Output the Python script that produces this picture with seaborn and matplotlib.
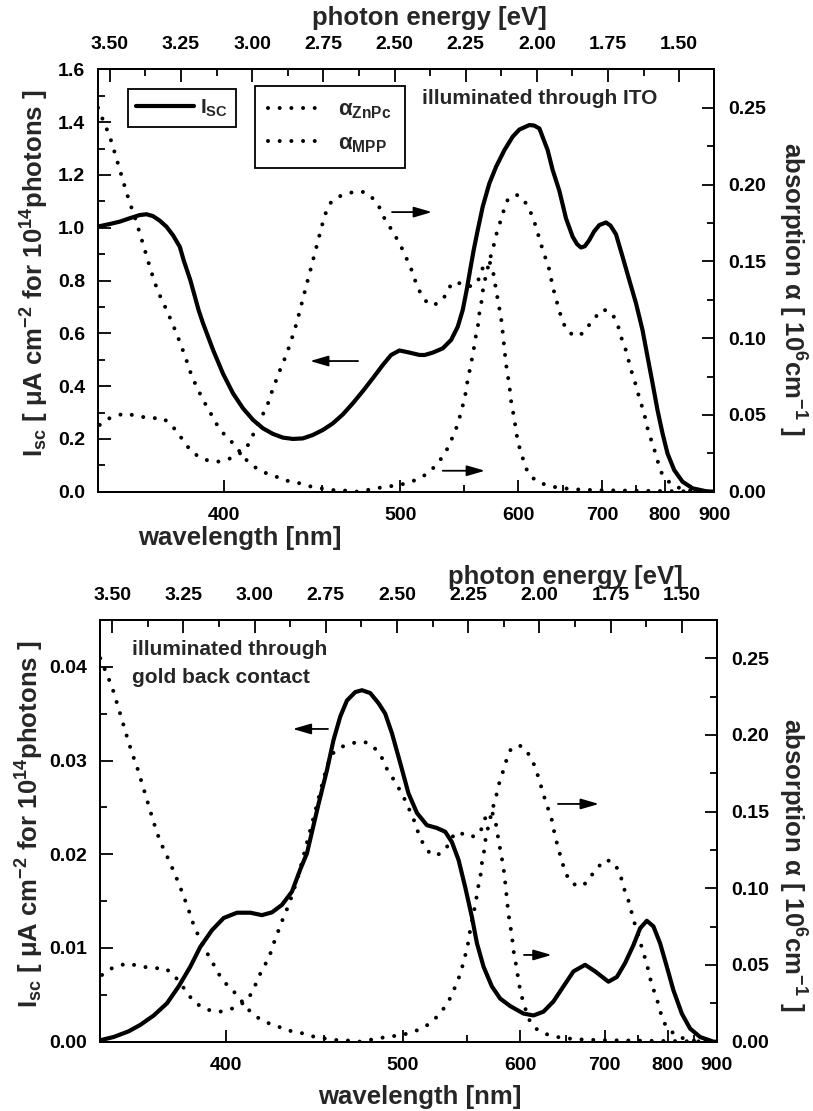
"""ZnPc/MPP cell - photocurrent and absorption spectra"""

import numpy as np
import matplotlib
matplotlib.use('Agg')
import matplotlib.pyplot as plt
from matplotlib.ticker import MultipleLocator, FormatStrFormatter
import seaborn as sns

HC = 1239.84  # eV nm

# absorption coefficient ZnPc [1e6 cm^-1]
znpc_wl = [350.1, 352.5, 354.2, 356.0, 357.8, 359.6, 361.5, 363.3, 365.2, 367.1,
           369.0, 371.0, 372.9, 375.6, 377.6, 379.6, 381.7, 383.7, 385.8, 388.0,
           390.8, 393.7, 397.4, 400.4, 404.2, 410.5, 415.3, 420.3, 425.3, 428.7,
           434.0, 439.4, 444.0, 449.7, 456.4, 464.4, 471.6, 477.0, 483.5, 490.2,
           497.1, 502.0, 507.8, 514.0, 521.0, 528.0, 532.8, 537.4, 540.1, 543.0,
           545.7, 548.5, 550.8, 552.3, 553.7, 555.2, 556.6, 558.0, 559.3, 560.7,
           562.2, 563.1, 564.6, 565.6, 566.7, 568.5, 570.7, 572.2, 574.7, 576.9,
           579.1, 581.6, 584.3, 586.5, 589.7, 598.1, 605.6, 615.4, 620.8, 626.3,
           630.1, 633.8, 637.6, 643.4, 646.2, 649.3, 654.6, 664.8, 675.0, 682.8,
           691.8, 700.8, 712.7, 720.8, 724.8, 728.9, 733.8, 737.4, 741.1, 745.1,
           749.4, 753.1, 757.0, 761.2, 765.7, 769.5, 774.0, 778.0, 783.8, 787.9,
           792.6, 802.7, 820.2, 839.7, 870.0, 900.0]
znpc = [0.250, 0.239, 0.2315, 0.2207, 0.2098, 0.1989, 0.188, 0.1793, 0.1685, 0.1576,
        0.1467, 0.136, 0.128, 0.1185, 0.111, 0.1033, 0.0946, 0.0859, 0.0761, 0.0685,
        0.0598, 0.0522, 0.0424, 0.037, 0.0316, 0.0207, 0.0153, 0.012, 0.0098, 0.0076,
        0.0065, 0.005, 0.0033, 0.0022, 0.0011, 0.0007, 0.0, 0.001, 0.0022, 0.0033,
        0.004, 0.005, 0.0065, 0.0087, 0.0124, 0.0185, 0.0239, 0.0304, 0.0359, 0.0413,
        0.0479, 0.0560, 0.0635, 0.0707, 0.0761, 0.0815, 0.087, 0.0924, 0.0989, 0.1043,
        0.1098, 0.1163, 0.1217, 0.127, 0.1337, 0.139, 0.1457, 0.150, 0.1565, 0.162,
        0.1685, 0.1739, 0.1793, 0.1848, 0.190, 0.1935, 0.1907, 0.1793, 0.1685, 0.1576,
        0.151, 0.1446, 0.1337, 0.1217, 0.1163, 0.1109, 0.1048, 0.1011, 0.1033, 0.1087,
        0.1141, 0.1187, 0.117, 0.1109, 0.1054, 0.0989, 0.0935, 0.088, 0.082, 0.0761,
        0.0707, 0.0652, 0.0598, 0.0544, 0.0479, 0.0413, 0.0359, 0.0304, 0.0246, 0.0185,
        0.013, 0.0076, 0.0033, 0.001, 0.0003, 0.0]

# absorption coefficient MPP [1e6 cm^-1]
mpp_wl = [350.7, 354.2, 359.6, 365.2, 370.3, 374.2, 377.6, 380.3, 385.8, 390.1,
          393.7, 397.4, 401.9, 406.5, 410.5, 413.7, 416.9, 420.3, 422.8, 425.3,
          427.9, 430.5, 433.1, 435.8, 437.6, 440.3, 443.1, 445.9, 448.7, 451.6,
          455.0, 459.6, 464.7, 470.6, 476.5, 482.4, 485.7, 489.0, 496.0, 502.0,
          508.0, 512.7, 516.4, 521.0, 528.0, 533.4, 537.4, 543.0, 550.0, 558.0,
          563.1, 566.1, 572.2, 575.3, 577.0, 578.5, 581.0, 583.3, 585.0, 586.5,
          588.1, 591.4, 593.1, 596.4, 598.7, 601.5, 604.9, 606.6, 610.8, 619.1,
          630.1, 641.5, 661.5, 691.8, 760.0, 830.0, 900.0]
mpp = [0.0435, 0.0479, 0.0511, 0.0489, 0.0479, 0.0479, 0.0435, 0.038, 0.0261, 0.0218,
       0.020, 0.0196, 0.0211, 0.0239, 0.0283, 0.037, 0.0468, 0.0544, 0.0642, 0.0728,
       0.0815, 0.0890, 0.0985, 0.1090, 0.1173, 0.1298, 0.1423, 0.1548, 0.1673, 0.1798,
       0.1880, 0.1920, 0.1940, 0.1956, 0.1950, 0.1900, 0.185, 0.178, 0.1674, 0.157,
       0.1446, 0.1326, 0.127, 0.1217, 0.1224, 0.127, 0.1333, 0.137, 0.1337, 0.134,
       0.139, 0.1457, 0.150, 0.1446, 0.138, 0.131, 0.122, 0.113, 0.103, 0.093,
       0.083, 0.069, 0.059, 0.047, 0.037, 0.029, 0.022, 0.018, 0.012, 0.007,
       0.0044, 0.0029, 0.0016, 0.001, 0.0006, 0.0003, 0.0]

# short circuit current, illuminated through ITO [uA cm^-2 per 1e14 photons]
isc_ito_wl = [350.7, 354.2, 357.8, 361.5, 365.2, 367.8, 370.3, 372.9, 375.6, 378.2,
              381.0, 382.6, 385.4, 388.9, 390.8, 395.2, 399.6, 404.2, 408.9, 413.7,
              418.6, 423.6, 428.7, 434.0, 439.4, 444.9, 450.6, 456.4, 462.4, 468.5,
              474.8, 481.3, 487.9, 493.6, 499.4, 506.6, 514.0, 518.0, 524.1, 532.0,
              538.8, 544.3, 548.5, 551.9, 554.9, 558.0, 561.6, 566.1, 572.2, 578.5,
              586.5, 594.7, 601.5, 611.9, 617.0, 622.7, 631.9, 637.6, 645.4, 653.4,
              661.5, 667.0, 672.0, 677.0, 682.8, 689.0, 696.3, 705.6, 712.0, 720.0,
              729.8, 740.0, 750.6, 761.2, 769.5, 778.0, 786.6, 795.5, 804.5, 817.0,
              833.0, 853.1, 881.6, 900.0]
isc_ito = [1.006, 1.014, 1.023, 1.036, 1.048, 1.051, 1.044, 1.027, 1.004, 0.972,
           0.928, 0.877, 0.801, 0.688, 0.638, 0.537, 0.448, 0.373, 0.316, 0.272,
           0.240, 0.219, 0.205, 0.200, 0.202, 0.215, 0.234, 0.259, 0.293, 0.335,
           0.381, 0.430, 0.480, 0.518, 0.535, 0.527, 0.518, 0.518, 0.527, 0.543,
           0.575, 0.625, 0.688, 0.764, 0.840, 0.915, 0.991, 1.080, 1.168, 1.231,
           1.294, 1.345, 1.372, 1.389, 1.387, 1.376, 1.294, 1.219, 1.140, 1.035,
           0.966, 0.938, 0.925, 0.930, 0.953, 0.985, 1.010, 1.020, 1.008, 0.975,
           0.890, 0.802, 0.714, 0.612, 0.511, 0.411, 0.309, 0.221, 0.145, 0.082,
           0.038, 0.013, 0.002, 0.0]

# short circuit current, illuminated through gold back contact
isc_au_wl = [350.7, 354.8, 360.2, 364.6, 369.7, 374.9, 379.6, 384.4, 388.6, 393.7,
             398.9, 405.0, 411.3, 416.9, 421.9, 427.0, 432.2, 436.7, 440.3, 443.1,
             446.8, 451.6, 455.4, 459.4, 463.4, 468.5, 472.7, 478.0, 483.5, 487.9,
             492.5, 498.3, 504.1, 510.3, 517.7, 525.4, 532.0, 537.4, 542.9, 548.5,
             554.3, 558.7, 564.6, 572.2, 580.0, 589.7, 603.1, 613.6, 624.4, 635.7,
             647.3, 659.4, 674.1, 687.2, 705.4, 717.5, 729.8, 742.5, 753.1, 764.0,
             775.1, 786.6, 798.6, 810.6, 826.6, 842.9, 863.5, 892.5, 900.0]
isc_au = [0.0002, 0.0005, 0.0011, 0.0018, 0.0028, 0.0041, 0.0059, 0.0080, 0.0101, 0.0119,
          0.0132, 0.01376, 0.01376, 0.0135, 0.0138, 0.0146, 0.0160, 0.0184, 0.0201, 0.0224,
          0.0254, 0.0290, 0.0322, 0.0347, 0.0364, 0.0373, 0.0375, 0.0372, 0.0361, 0.0350,
          0.0329, 0.0297, 0.0265, 0.0244, 0.0231, 0.0228, 0.0224, 0.0213, 0.0194, 0.0165,
          0.0133, 0.0105, 0.0080, 0.0059, 0.0046, 0.0038, 0.0030, 0.0028, 0.0032, 0.0043,
          0.0059, 0.0075, 0.0082, 0.0075, 0.0064, 0.0069, 0.0084, 0.0103, 0.0121, 0.0129,
          0.0123, 0.0105, 0.0080, 0.0055, 0.0030, 0.0014, 0.0005, 0.0, 0.0]

wl_ticks = [400, 500, 600, 700, 800, 900]
wl_minor = [350, 450, 550, 650, 750, 850]
ev_ticks = [3.50, 3.25, 3.00, 2.75, 2.50, 2.25, 2.00, 1.75, 1.50]

sns.set_style('ticks')
plt.rcParams['font.family'] = ['Liberation Sans', 'DejaVu Sans']
plt.rcParams['font.weight'] = 'bold'
plt.rcParams['axes.labelweight'] = 'bold'
plt.rcParams['mathtext.fontset'] = 'custom'
plt.rcParams['mathtext.rm'] = 'Liberation Sans:bold'
plt.rcParams['mathtext.bf'] = 'Liberation Sans:bold'
plt.rcParams['mathtext.it'] = 'Liberation Sans:bold'
plt.rcParams['mathtext.sf'] = 'Liberation Sans:bold'
plt.rcParams['mathtext.default'] = 'rm'
plt.rcParams['axes.linewidth'] = 1.4
plt.rcParams['axes.edgecolor'] = 'black'

DOTS = (0, (0.001, 2.9))
TICK_SIZE = 14
LABEL_SIZE = 18.5


def arrow(ax, tail, head):
    ax.annotate('', xy=head, xytext=tail, xycoords='axes fraction',
                textcoords='axes fraction',
                arrowprops=dict(arrowstyle='-|>,head_length=0.55,head_width=0.16',
                                color='black', lw=1.3, shrinkA=0, shrinkB=0,
                                mutation_scale=20))


def draw_panel(fig, rect, isc_wl, isc, ymax, ystep, yfmt, p):
    ax = fig.add_axes(rect)
    ax2 = ax.twinx()

    sns.lineplot(x=HC / np.array(isc_wl), y=isc, ax=ax, color='black', lw=3,
                 sort=False, estimator=None, errorbar=None)
    for a_wl, a_val in ((znpc_wl, znpc), (mpp_wl, mpp)):
        sns.lineplot(x=HC / np.array(a_wl), y=a_val, ax=ax2, color='black', lw=2.9,
                     linestyle=DOTS, dash_capstyle='round',
                     sort=False, estimator=None, errorbar=None)

    ax.set_xlim(HC / 350, HC / 900)
    ax.set_ylim(0, ymax)
    ax2.set_ylim(0, 0.275)

    # bottom axis: wavelength, placed linear in photon energy
    ax.set_xticks(HC / np.array(wl_ticks), labels=[str(w) for w in wl_ticks])
    ax.set_xticks(HC / np.array(wl_minor), minor=True)
    ax.yaxis.set_major_locator(MultipleLocator(ystep))
    ax.yaxis.set_minor_locator(MultipleLocator(ystep / 2))
    ax.yaxis.set_major_formatter(FormatStrFormatter(yfmt))
    ax.tick_params(which='both', direction='in', top=False, right=False,
                   width=1.3, labelsize=TICK_SIZE, colors='black')
    ax.tick_params(which='major', length=9)
    ax.tick_params(which='minor', length=5)
    ax.tick_params(axis='x', pad=11)
    ax.tick_params(axis='y', pad=9)

    ax2.yaxis.set_major_locator(MultipleLocator(0.05))
    ax2.yaxis.set_minor_locator(MultipleLocator(0.025))
    ax2.yaxis.set_major_formatter(FormatStrFormatter('%.2f'))
    ax2.tick_params(which='both', direction='in', left=False, width=1.3,
                    labelsize=TICK_SIZE, pad=10.5, colors='black')
    ax2.tick_params(which='major', length=9)
    ax2.tick_params(which='minor', length=5)

    # top axis: photon energy
    sec = ax.secondary_xaxis('top')
    sec.set_ticks(ev_ticks, labels=['%.2f' % e for e in ev_ticks])
    sec.xaxis.set_minor_locator(MultipleLocator(0.125))
    sec.tick_params(which='both', direction='in', width=1.3, labelsize=TICK_SIZE,
                    pad=11.5, colors='black')
    sec.tick_params(which='major', length=9)
    sec.tick_params(which='minor', length=5)
    sec.spines['top'].set_linewidth(1.4)
    ax.text(*p['toplabel'], 'photon energy [eV]', transform=ax.transAxes,
            fontsize=LABEL_SIZE, ha='center', va='center')

    ax.set_xlabel('wavelength [nm]', fontsize=LABEL_SIZE, va='center')
    ax.xaxis.set_label_coords(*p['xlabel'])
    ax.set_ylabel(r'I$_{\mathrm{sc}}$ [ μA cm$^{\mathrm{-2}}$ for 10$^{\mathrm{14}}$photons ]',
                  fontsize=LABEL_SIZE, va='center')
    ax.yaxis.set_label_coords(*p['ylabel'])
    ax2.set_ylabel(r'absorption α [ 10$^{\mathrm{6}}$cm$^{\mathrm{-1}}$ ]',
                   fontsize=LABEL_SIZE, rotation=270, va='center')
    ax2.yaxis.set_label_coords(*p['y2label'])

    for tail, head in p['arrows']:
        arrow(ax2, tail, head)
    for x, y, s in p['texts']:
        ax2.text(x, y, s, transform=ax2.transAxes, fontsize=15, va='center', ha='left')
    return ax, ax2


def main():
    fig = plt.figure(figsize=(8.13, 11.11), dpi=100)

    top = dict(xlabel=(0.231, -0.110), toplabel=(0.539, 1.1215),
               ylabel=(-0.102, 0.518), y2label=(1.127, 0.481),
               arrows=[((0.4775, 0.662), (0.5424, 0.662)),
                       ((0.4224, 0.3094), (0.3445, 0.3094)),
                       ((0.5598, 0.0497), (0.6284, 0.0497))],
               texts=[(0.5257, 0.932, 'illuminated through ITO')])
    ax, ax2 = draw_panel(fig, [0.1202, 0.5574, 0.7581, 0.3802], isc_ito_wl, isc_ito,
                         1.6, 0.2, '%.1f', top)

    # legends of the upper panel
    leg1 = ax2.legend(handles=[ax.lines[0]], labels=[r'I$_{\mathrm{SC}}$'],
                      loc='upper left', bbox_to_anchor=(0.0487, 0.9527),
                      borderaxespad=0, fontsize=15, handlelength=2.8,
                      handletextpad=0.25, borderpad=0.4, fancybox=False,
                      edgecolor='black', framealpha=1)
    leg1.get_frame().set_linewidth(1.3)
    ax2.add_artist(leg1)
    leg2 = ax2.legend(handles=ax2.lines[:2],
                      labels=[r'α$_{\mathrm{ZnPc}}$', r'α$_{\mathrm{MPP}}$'],
                      loc='upper left', bbox_to_anchor=(0.2552, 0.9605),
                      borderaxespad=0, fontsize=16, handlelength=2.55,
                      handletextpad=0.6, borderpad=0.6, labelspacing=0.55,
                      fancybox=False, edgecolor='black', framealpha=1)
    leg2.get_frame().set_linewidth(1.3)

    bottom = dict(xlabel=(0.519, -0.131), toplabel=(0.754, 1.102),
                  ylabel=(-0.1135, 0.516), y2label=(1.1216, 0.419),
                  arrows=[((0.3697, 0.7415), (0.3125, 0.7415)),
                          ((0.7427, 0.5637), (0.8091, 0.5637)),
                          ((0.6875, 0.2056), (0.7324, 0.2056))],
                  texts=[(0.0514, 0.929, 'illuminated through'),
                         (0.0514, 0.8625, 'gold back contact')])
    draw_panel(fig, [0.1230, 0.0624, 0.7585, 0.3796], isc_au_wl, isc_au,
               0.045, 0.01, '%.2f', bottom)

    fig.savefig('out.png', dpi=100)


if __name__ == "__main__":
    main()
